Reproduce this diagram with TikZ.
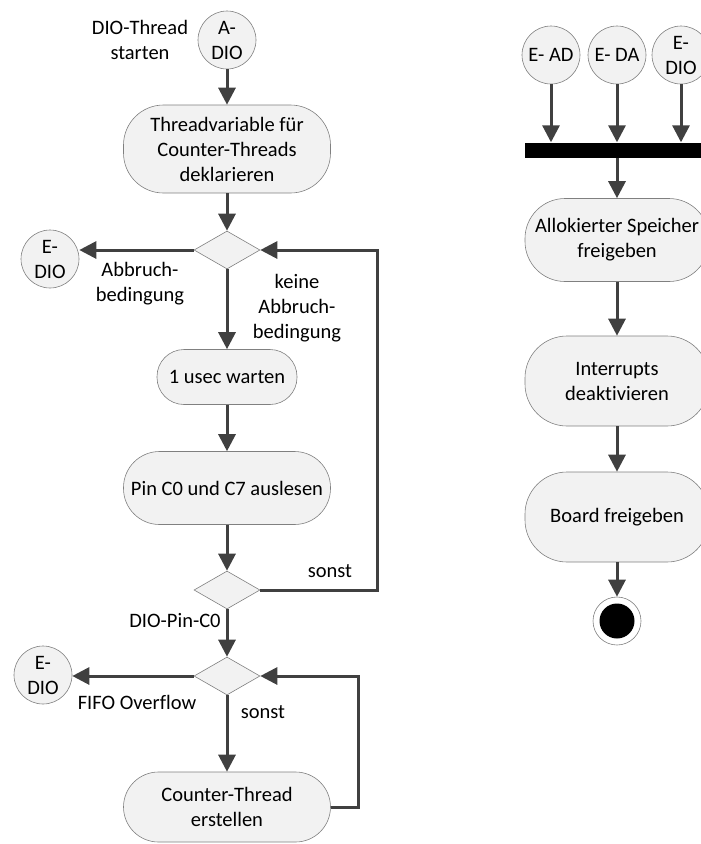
\documentclass[tikz,border=0pt]{standalone}
\usepackage{fontspec}
\setmainfont{Carlito}[Ligatures=NoCommon]
\usetikzlibrary{arrows.meta,shapes.geometric}
\definecolor{boxfill}{HTML}{F2F2F2}
\definecolor{boxline}{HTML}{808080}
\definecolor{arr}{HTML}{404040}
\begin{document}
\begin{tikzpicture}[x=1pt,y=-1pt,
  txt/.style={font=\fontsize{20.5}{25}\selectfont, align=center, text=black},
  act/.style={txt, draw=boxline, fill=boxfill, line width=0.6pt, inner sep=0pt},
  dec/.style={draw=boxline, fill=boxfill, line width=0.6pt, diamond, inner sep=0pt, minimum width=66pt, minimum height=38pt},
  term/.style={txt, circle, draw=boxline, fill=boxfill, line width=0.6pt, inner sep=0pt, minimum size=58pt},
  flow/.style={draw=arr, line width=3pt, -{Triangle[width=17pt,length=17pt]}},
  plain/.style={draw=arr, line width=3pt}
]
\clip (0,0) rectangle (701,844);
\useasboundingbox (0,0) rectangle (701,844);

% left column
\node[term] (adio) at (227,40) {A-\\DIO};
\node[txt] (lstart) at (140,40) {DIO-Thread\\starten};
\node[act, minimum width=207pt, minimum height=88pt, rounded corners=40pt] (b1) at (227,149) {Threadvariable für\\Counter-Threads\\deklarieren};
\node[dec] (d1) at (227,250) {};
\node[term] (edio1) at (50,259) {E-\\DIO};
\node[txt] (labb) at (140,284) {Abbruch-\\bedingung};
\node[txt] (lkeine) at (297,308) {keine\\Abbruch-\\bedingung};
\node[act, minimum width=140pt, minimum height=55pt, rounded corners=27pt] (b2) at (227,377) {1 usec warten};
\node[act, minimum width=207pt, minimum height=73pt, rounded corners=36pt] (b3) at (227,488) {Pin C0 und C7 auslesen};
\node[dec] (d2) at (227,590) {};
\node[txt] (lsonst1) at (330,571) {sonst};
\node[txt] (lpin) at (175,621) {DIO-Pin-C0};
\node[dec] (d3) at (227,676) {};
\node[term] (edio2) at (43,675) {E-\\DIO};
\node[txt] (lfifo) at (137,702) {FIFO Overflow};
\node[txt] (lsonst2) at (263,712) {sonst};
\node[act, minimum width=207pt, minimum height=70pt, rounded corners=35pt] (b4) at (227,807) {Counter-Thread\\erstellen};
\coordinate (loopa) at (377,0);
\coordinate (loopb) at (358,0);

\draw[flow] (adio) -- (b1);
\draw[flow] (b1) -- (d1);
\draw[flow] (d1.west) -- (edio1.east |- d1.west);
\draw[flow] (d1) -- (b2);
\draw[flow] (b2) -- (b3);
\draw[flow] (b3) -- (d2);
\draw[flow] (d2.east) -- (d2.east -| loopa) |- (d1.east);
\draw[flow] (d2) -- (d3);
\draw[flow] (d3.west) -- (edio2.east |- d3.west);
\draw[flow] (d3) -- (b4);
\draw[flow] (b4.east) -- (b4.east -| loopb) |- (d3.east);

% right column
\node[term] (ead) at (551,55) {E- AD};
\node[term] (eda) at (617,55) {E- DA};
\node[term] (edio3) at (681,55) {E-\\DIO};
\node[fill=black, minimum width=190pt, minimum height=15pt, inner sep=0pt] (bar) at (620,150) {};
\node[act, minimum width=184pt, minimum height=83pt, rounded corners=40pt] (b5) at (617,240) {Allokierter Speicher\\freigeben};
\node[act, minimum width=184pt, minimum height=90pt, rounded corners=42pt] (b6) at (617,381) {Interrupts\\deaktivieren};
\node[act, minimum width=184pt, minimum height=90pt, rounded corners=42pt] (b7) at (617,517) {Board freigeben};
\node[circle, draw=boxline, fill=white, line width=0.6pt, minimum size=48pt, inner sep=0pt] (fin) at (617,621) {};
\node[circle, fill=black, minimum size=35pt, inner sep=0pt] (finin) at (617,621) {};

\draw[flow] (ead) -- (ead |- bar.north);
\draw[flow] (eda) -- (eda |- bar.north);
\draw[flow] (edio3) -- (edio3 |- bar.north);
\draw[flow] (eda |- bar.south) -- (b5);
\draw[flow] (b5) -- (b6);
\draw[flow] (b6) -- (b7);
\draw[flow] (b7) -- (fin);
\end{tikzpicture}
\end{document}
